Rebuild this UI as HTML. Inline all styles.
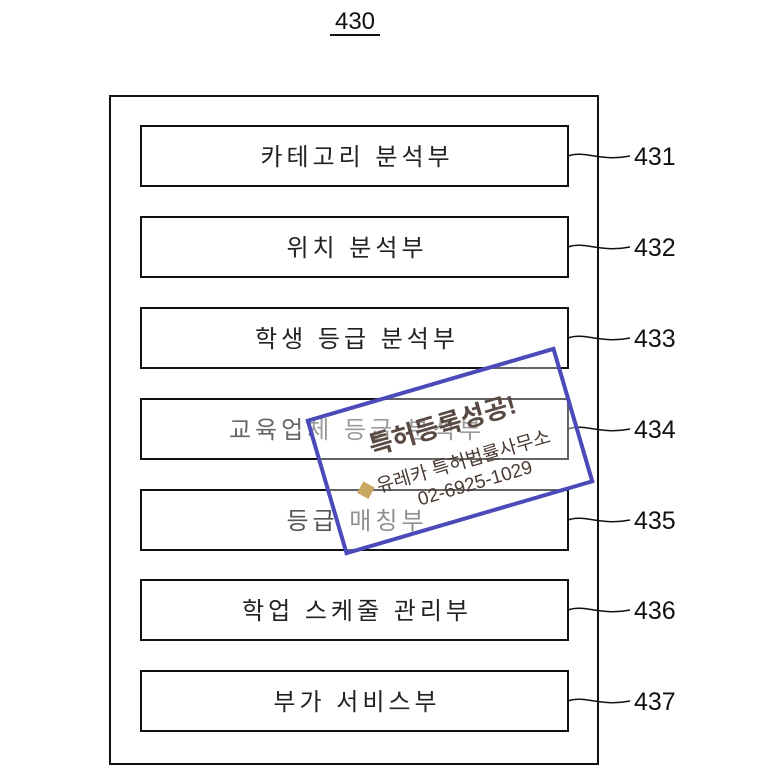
<!DOCTYPE html>
<html><head><meta charset="utf-8"><style>
body{margin:0;background:#fff;width:780px;height:779px;overflow:hidden;font-family:"Liberation Sans","Noto Sans CJK KR",sans-serif}
</style></head><body>
<svg width="780" height="779" xmlns="http://www.w3.org/2000/svg" font-family="Liberation Sans, Noto Sans CJK KR, sans-serif">
<text x="355" y="29" font-size="24" text-anchor="middle" fill="#111">430</text>
<line x1="330" y1="35" x2="380" y2="35" stroke="#111" stroke-width="2"/>
<rect x="110" y="96" width="488" height="668" fill="none" stroke="#111" stroke-width="2"/>
<g fill="none" stroke="#111" stroke-width="2">
<rect x="141" y="126" width="427" height="60"/>
<rect x="141" y="217" width="427" height="60"/>
<rect x="141" y="308" width="427" height="60"/>
<rect x="141" y="399" width="427" height="60"/>
<rect x="141" y="490" width="427" height="60"/>
<rect x="141" y="580" width="427" height="60"/>
<rect x="141" y="671" width="427" height="60"/>
</g>
<g fill="none" stroke="#111" stroke-width="1.5">
<path d="M568 156 C585 150,600 162,630 156"/>
<path d="M568 247 C585 241,600 253,630 247"/>
<path d="M568 338 C585 332,600 344,630 338"/>
<path d="M568 429 C585 423,600 435,630 429"/>
<path d="M568 520 C585 514,600 526,630 520"/>
<path d="M568 610 C585 604,600 616,630 610"/>
<path d="M568 701 C585 695,600 707,630 701"/>
</g>
<g font-size="25" fill="#111">
<text x="634" y="165">431</text><text x="634" y="256">432</text><text x="634" y="347">433</text>
<text x="634" y="438">434</text><text x="634" y="529">435</text><text x="634" y="619">436</text><text x="634" y="710">437</text>
</g>
<g font-size="24" fill="#222" text-anchor="middle" letter-spacing="4">
<text x="357" y="165">카테고리 분석부</text>
<text x="357" y="256">위치 분석부</text>
<text x="357" y="347">학생 등급 분석부</text>
<text x="357" y="438" fill="#666">교육업체 등급 분석부</text>
<text x="357" y="529" fill="#555">등급 매칭부</text>
<text x="357" y="619">학업 스케줄 관리부</text>
<text x="357" y="710">부가 서비스부</text>
</g>
<g transform="translate(450,451) rotate(-16.3)">
<rect x="-128" y="-69" width="256" height="138" fill="rgba(255,255,255,0.35)" stroke="#4a4ab8" stroke-width="4"/>
<text x="0" y="-18" font-size="26" text-anchor="middle" fill="#5a4a44" font-weight="bold">특허등록성공!</text>
<text x="10" y="20" font-size="19" text-anchor="middle" fill="#4a3a34">유레카 특허법률사무소</text>
<text x="15" y="44" font-size="19" text-anchor="middle" fill="#4a3a34">02-6925-1029</text>
<rect x="-98" y="8" width="13" height="13" fill="#c8a860" transform="rotate(45 -91 14)"/>
</g>
</svg>
</body></html>
